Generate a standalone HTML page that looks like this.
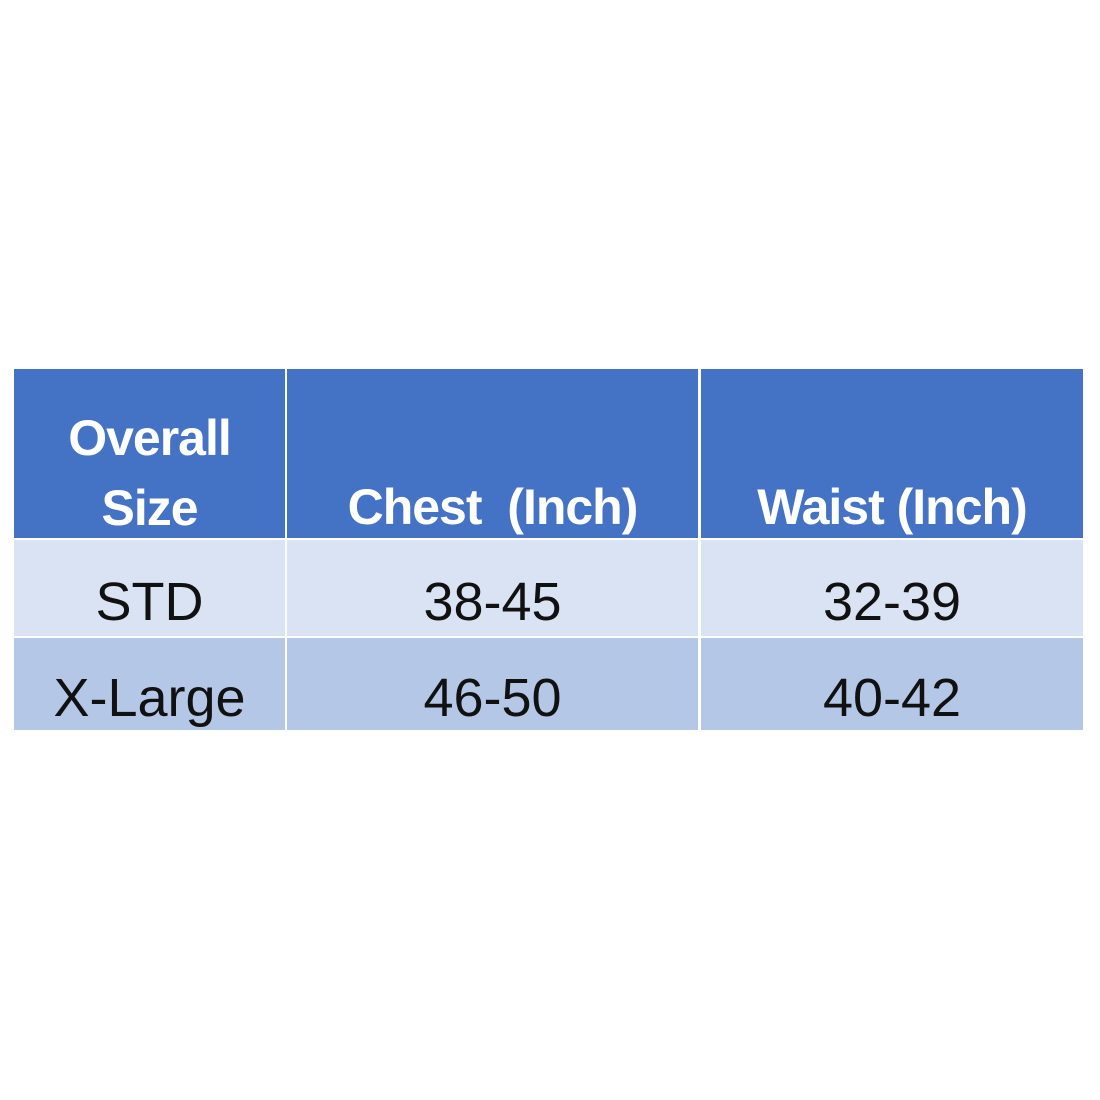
<!DOCTYPE html>
<html><head><style>
body{margin:0;width:1100px;height:1100px;background:#fff;position:relative;overflow:hidden;font-family:"Liberation Sans",sans-serif}
.c{position:absolute;display:flex;align-items:center;justify-content:center;text-align:center}
.h{background:#4472C4;color:#fff;font-weight:bold;font-size:50px;line-height:70px;letter-spacing:-1px}
.r1{background:#DAE3F3;color:#111;font-size:54px}
.r2{background:#B4C7E7;color:#111;font-size:54px}
</style></head><body>
<div class="c h" style="left:14px;top:369px;width:271px;height:169px;"><span style="margin-top:38px">Overall<br>Size</span></div>
<div class="c h" style="left:287px;top:369px;width:411px;height:169px;align-items:flex-end"><span style="margin-bottom:-4px">Chest&nbsp; (Inch)</span></div>
<div class="c h" style="left:701px;top:369px;width:382px;height:169px;align-items:flex-end"><span style="margin-bottom:-4px">Waist (Inch)</span></div>
<div class="c r1" style="left:14px;top:540px;width:271px;height:96px"><span style="margin-top:28px">STD</span></div>
<div class="c r1" style="left:287px;top:540px;width:411px;height:96px"><span style="margin-top:28px">38-45</span></div>
<div class="c r1" style="left:701px;top:540px;width:382px;height:96px"><span style="margin-top:28px">32-39</span></div>
<div class="c r2" style="left:14px;top:638px;width:271px;height:92px"><span style="margin-top:28px">X-Large</span></div>
<div class="c r2" style="left:287px;top:638px;width:411px;height:92px"><span style="margin-top:28px">46-50</span></div>
<div class="c r2" style="left:701px;top:638px;width:382px;height:92px"><span style="margin-top:28px">40-42</span></div>
</body></html>
